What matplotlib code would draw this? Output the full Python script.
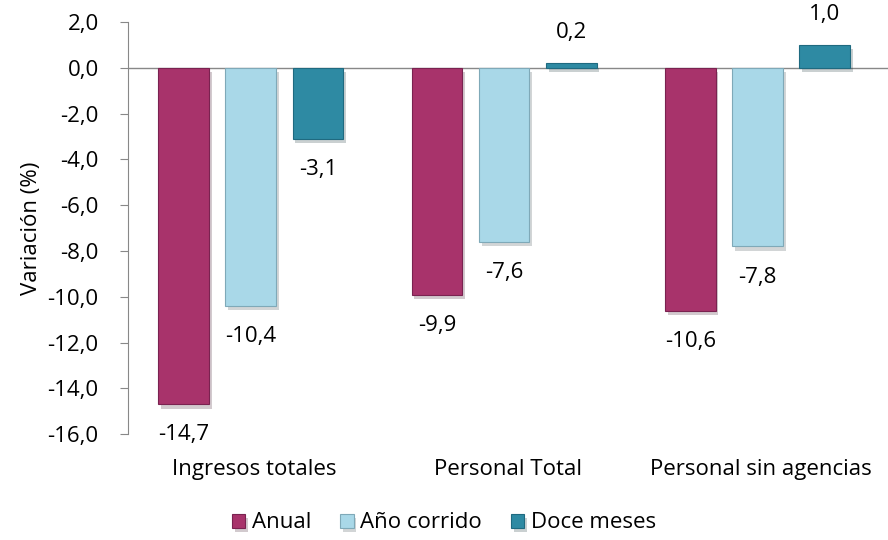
import numpy as np
import matplotlib.pyplot as plt
import matplotlib.patheffects as pe

plt.rcParams['font.family'] = ['Open Sans', 'DejaVu Sans']

# Data
categorias = ['Ingresos totales', 'Personal Total', 'Personal sin agencias']
series = ['Anual', 'Año corrido', 'Doce meses']
anual = [-14.7, -9.9, -10.6]
anio_corrido = [-10.4, -7.6, -7.8]
doce_meses = [-3.1, 0.2, 1.0]

valores = [anual, anio_corrido, doce_meses]
colores = ['#A8336B', '#A9D8E8', '#2E8AA3']
bordes = ['#7A2250', '#7FA9B8', '#1F6A80']

fig = plt.figure(figsize=(8.88, 5.4), dpi=100)
ax = fig.add_axes([0.144, 0.196, 0.856, 0.763])

x = np.arange(len(categorias))
ancho = 0.2
paso = 0.265
sombra = [pe.SimplePatchShadow(offset=(2, -3), alpha=0.22), pe.Normal()]

for i, (vals, c, b, nombre) in enumerate(zip(valores, colores, bordes, series)):
    pos = x + (i - 1) * paso - 0.015
    barras = ax.bar(pos, vals, width=ancho, color=c, edgecolor=b, linewidth=0.8,
                    label=nombre, zorder=3)
    for bar in barras:
        bar.set_path_effects(sombra)
    for p, v in zip(pos, vals):
        off = 22 if v >= 0 else -22
        ax.annotate(f'{v:.1f}'.replace('.', ','), (p, v), xytext=(0, off),
                    textcoords='offset points', ha='center', va='center',
                    fontsize=16, color='#000000')

ax.set_xlim(-0.5, 2.5)
ax.set_ylim(-16, 2)
ax.set_yticks(np.arange(-16, 2.1, 2))
ax.set_yticklabels([f'{t:.1f}'.replace('.', ',') for t in np.arange(-16, 2.1, 2)])
ax.tick_params(axis='y', labelsize=16, length=6, color='#888888', direction='out', pad=15)
ax.set_xticks(x)
ax.set_xticklabels(categorias, fontsize=16)
ax.tick_params(axis='x', length=0, pad=18)
ax.axhline(0, color='#888888', linewidth=1, zorder=2)

for s in ['top', 'right', 'bottom']:
    ax.spines[s].set_visible(False)
ax.spines['left'].set_color('#888888')

ax.set_ylabel('Variación (%)', fontsize=16, labelpad=4)

fig.legend(loc='lower center', bbox_to_anchor=(0.5, -0.025), ncol=3, frameon=False,
           fontsize=16, handlelength=0.6, handleheight=0.6, handletextpad=0.3,
           columnspacing=1.3)

fig.savefig('out.png', dpi=100)
